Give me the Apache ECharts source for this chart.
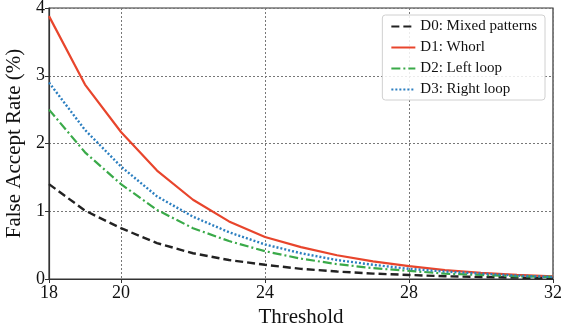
<!DOCTYPE html>
<html><head><meta charset="utf-8">
<script src="https://cdn.jsdelivr.net/npm/echarts@6/dist/echarts.min.js"></script>
<style>html,body{margin:0;padding:0;background:#fff}#c{width:561px;height:328px}</style>
</head><body><div id="c"></div>
<script>
const thresholds = [18,19,20,21,22,23,24,25,26,27,28,29,30,31,32];
const d0 = [1.40,1.01,0.75,0.53,0.38,0.28,0.21,0.15,0.11,0.08,0.06,0.04,0.03,0.02,0.01];
const d1 = [3.88,2.87,2.17,1.60,1.17,0.85,0.62,0.47,0.35,0.26,0.19,0.13,0.09,0.06,0.04];
const d2 = [2.50,1.87,1.40,1.02,0.75,0.56,0.41,0.30,0.22,0.16,0.12,0.08,0.06,0.04,0.03];
const d3 = [2.90,2.20,1.66,1.22,0.92,0.69,0.51,0.38,0.28,0.21,0.15,0.11,0.08,0.05,0.03];
const xTicks = [18,20,24,28,32];
const names = ['D0: Mixed patterns','D1: Whorl','D2: Left loop','D3: Right loop'];
const F = '"Liberation Serif","DejaVu Serif",serif';
const pair = a => thresholds.map((t,i)=>[t,a[i]]);
const chart = echarts.init(document.getElementById('c'));
const mk = (name, data, color, type, w) => ({
  name, type:'line', data: pair(data), symbol:'none', smooth:false,
  lineStyle:{color, width:w, type}, itemStyle:{color}
});
chart.setOption({
  animation:false,
  grid:{left:49,right:8,top:8,bottom:49,outerBoundsMode:'none',containLabel:false,show:true,borderColor:'#333',borderWidth:1.2,backgroundColor:'transparent'},
  legend:{
    right:16, top:15, orient:'vertical', itemGap:6, itemWidth:24, itemHeight:14,
    backgroundColor:'rgba(255,255,255,0.85)', borderColor:'#d0d0d0', borderWidth:1, borderRadius:3,
    padding:[4,8,3,8],
    itemStyle:{opacity:0},
    textStyle:{fontFamily:F, fontSize:15, color:'#111'},
    data:names
  },
  xAxis:{
    type:'value', min:18, max:32,
    name:'Threshold', nameLocation:'middle', nameGap:26,
    nameTextStyle:{fontFamily:F, fontSize:21, color:'#111'},
    axisLine:{show:true, lineStyle:{color:'#333', width:1.2}},
    axisTick:{show:true, customValues:xTicks, length:4, inside:false, lineStyle:{color:'#333'}},
    axisLabel:{customValues:xTicks, fontFamily:F, fontSize:18, color:'#111', margin:5},
    splitLine:{show:true, lineStyle:{color:'#777', type:[2,2], width:1}}
  },
  yAxis:{
    type:'value', min:0, max:4, interval:1,
    name:'False Accept Rate (%)', nameLocation:'middle', nameGap:22,
    nameTextStyle:{fontFamily:F, fontSize:21, color:'#111'},
    axisLine:{show:true, lineStyle:{color:'#333', width:1.2}},
    axisTick:{show:true, length:4, lineStyle:{color:'#333'}},
    axisLabel:{fontFamily:F, fontSize:18, color:'#111', margin:4},
    splitLine:{show:true, lineStyle:{color:'#777', type:[2,2], width:1}}
  },
  series:[
    mk(names[0], d0, '#222222', [8,4], 2.4),
    mk(names[1], d1, '#E8452C', 'solid', 2.2),
    mk(names[2], d2, '#3AAA49', [9,3,2,3], 2.2),
    mk(names[3], d3, '#2C7FC0', [2,2], 2.4)
  ]
});
</script></body></html>
